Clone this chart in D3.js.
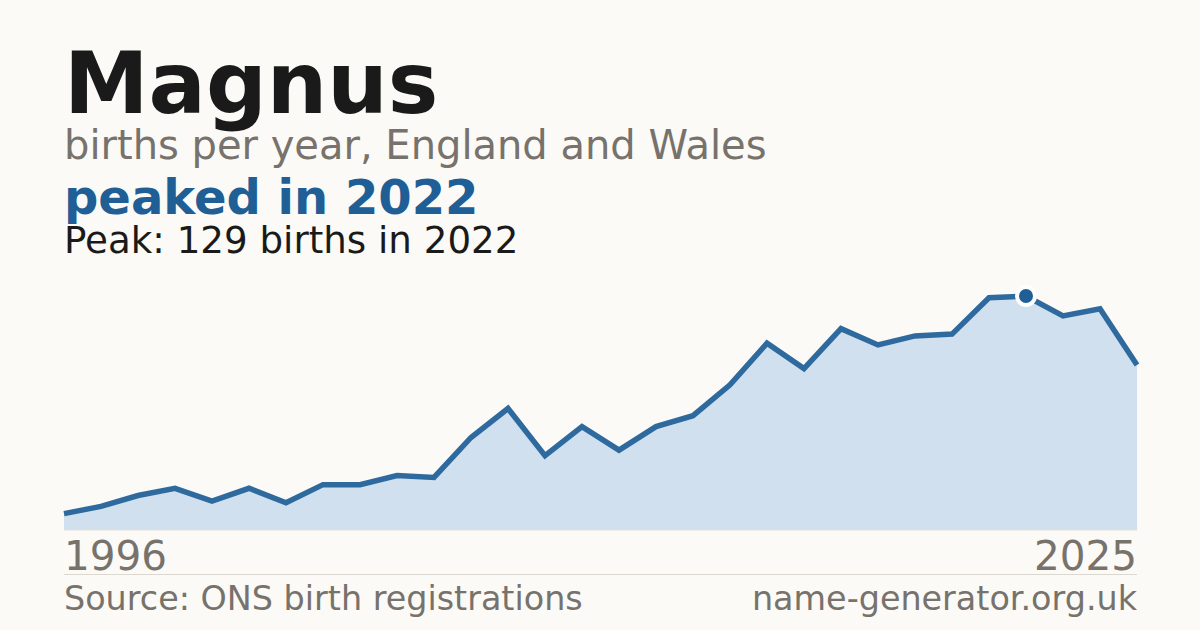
<!DOCTYPE html>
<html>
<head>
<meta charset="utf-8">
<script src="https://cdn.jsdelivr.net/npm/d3@7"></script>
<style>
  html, body { margin: 0; padding: 0; background: #fbfaf6; }
  svg { display: block; font-family: "DejaVu Sans", sans-serif; }
</style>
</head>
<body>
<svg id="chart" width="1200" height="630"></svg>
<script>
// births per year, 1996 to 2025
const years = d3.range(1996, 2026);
const births = [
  9, 13, 19, 23, 16, 23, 15, 25, 25, 30,
  29, 51, 67, 41, 57, 44, 57, 63, 80, 103,
  89, 111, 102, 107, 108, 128, 129, 118, 122, 91
];
const peakYear = 2022;
const peakValue = 129;
const xLabels = ["1996", "2025"];

const svg = d3.select("#chart");
const left = 64, right = 1137, bottom = 530, peakY = 296;

svg.append("rect").attr("width", 1200).attr("height", 630).attr("fill", "#fbfaf6");

const data = years.map((y, i) => ({ year: y, value: births[i] }));

const x = d3.scaleLinear().domain([1996, 2025]).range([left, right]);
const y = d3.scaleLinear().domain([0, peakValue]).range([bottom, peakY]);

// titles
svg.append("text")
  .attr("x", left).attr("y", 113)
  .attr("font-size", 85).attr("font-weight", "bold")
  .attr("fill", "#1a1a1a")
  .text("Magnus");

svg.append("text")
  .attr("x", left).attr("y", 159)
  .attr("font-size", 40)
  .attr("fill", "#77726c")
  .text("births per year, England and Wales");

svg.append("text")
  .attr("x", left).attr("y", 214)
  .attr("font-size", 48).attr("font-weight", "bold")
  .attr("fill", "#1f5f96")
  .text("peaked in 2022");

svg.append("text")
  .attr("x", left).attr("y", 253)
  .attr("font-size", 37.2)
  .attr("fill", "#1a1a1a")
  .text(`Peak: ${peakValue} births in ${peakYear}`);

// area + line
const area = d3.area()
  .x((d) => x(d.year))
  .y0(bottom)
  .y1((d) => y(d.value));

const line = d3.line()
  .x((d) => x(d.year))
  .y((d) => y(d.value));

svg.append("path")
  .datum(data)
  .attr("d", area)
  .attr("fill", "#d0e0ef");

svg.append("line")
  .attr("x1", left).attr("x2", right)
  .attr("y1", bottom).attr("y2", bottom)
  .attr("stroke", "#e8e0d2")
  .attr("stroke-width", 1);

svg.append("path")
  .datum(data)
  .attr("d", line)
  .attr("fill", "none")
  .attr("stroke", "#2f6a9f")
  .attr("stroke-width", 5.5)
  .attr("stroke-linejoin", "miter");

// peak marker
svg.append("circle")
  .attr("cx", x(peakYear))
  .attr("cy", y(peakValue))
  .attr("r", 9)
  .attr("fill", "#1f5f96")
  .attr("stroke", "#ffffff")
  .attr("stroke-width", 4);

// year labels
svg.append("text")
  .attr("x", left).attr("y", 570)
  .attr("font-size", 40.5)
  .attr("fill", "#77726c")
  .text(xLabels[0]);

svg.append("text")
  .attr("x", right).attr("y", 570)
  .attr("text-anchor", "end")
  .attr("font-size", 40.5)
  .attr("fill", "#77726c")
  .text(xLabels[1]);

// footer
svg.append("line")
  .attr("x1", left).attr("x2", right)
  .attr("y1", 574.5).attr("y2", 574.5)
  .attr("stroke", "#dcd8d0")
  .attr("stroke-width", 1);

svg.append("text")
  .attr("x", left).attr("y", 610)
  .attr("font-size", 33.4)
  .attr("fill", "#77726c")
  .text("Source: ONS birth registrations");

svg.append("text")
  .attr("x", right).attr("y", 610)
  .attr("text-anchor", "end")
  .attr("font-size", 33.4)
  .attr("fill", "#77726c")
  .text("name-generator.org.uk");
</script>
</body>
</html>
